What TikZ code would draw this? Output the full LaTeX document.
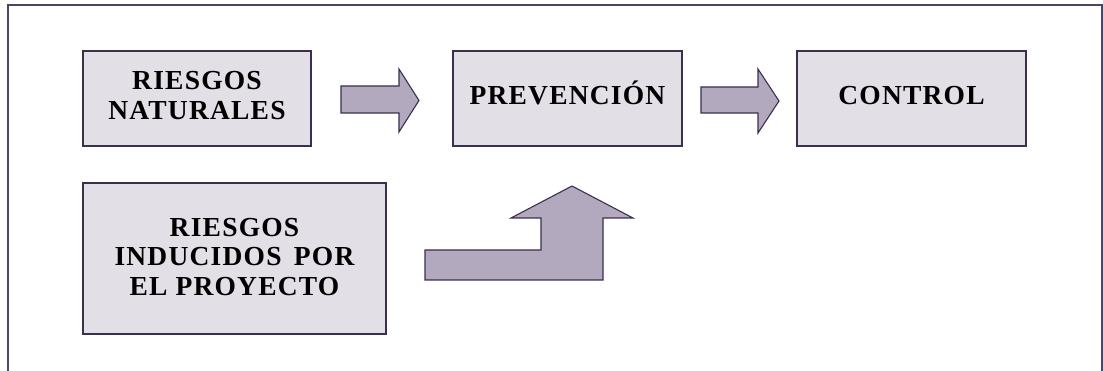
\documentclass[tikz,border=0pt]{standalone}
\usepackage{fontspec}
\setmainfont{Liberation Serif}[LetterSpace=4.4]
\usepackage{tikz}

\definecolor{boxfill}{RGB}{227,223,231}
\definecolor{arrowfill}{RGB}{178,169,190}
\definecolor{edgeline}{RGB}{59,47,79}
\definecolor{frameline}{RGB}{79,67,102}

\begin{document}
\begin{tikzpicture}[x=1pt,y=-1pt,
        riskbox/.style={shape=rectangle,draw=edgeline,fill=boxfill,line width=1.1pt,align=center,
                font=\fontsize{27.5}{29.4}\selectfont\bfseries,inner sep=0pt},
        oneline/.style={text height=18pt,text depth=6.4pt},
        blockarrow/.style={draw=edgeline,fill=arrowfill,line width=1.1pt,line join=miter}]
        \useasboundingbox (0,0) rectangle (1103,371);
        \draw[frameline,line width=1.4pt] (8,371) -- (8,5) -- (1102,5) -- (1102,371);

        \node[riskbox,minimum width=228pt,minimum height=95pt,text depth=6pt] (nat) at (197,98.5) {RIESGOS\\NATURALES};
        \node[riskbox,oneline,minimum width=229pt,minimum height=95pt] (prev) at (567.5,98.5) {PREVENCIÓN};
        \node[riskbox,oneline,minimum width=229pt,minimum height=95pt] (ctrl) at (911.5,98.5) {CONTROL};
        \node[riskbox,minimum width=303pt,minimum height=151pt,text depth=4pt] (ind) at (234.5,258.5)
                {RIESGOS\\INDUCIDOS\hspace{0.45em}POR\\EL PROYECTO};

        % block arrows
        \path[blockarrow] (341,86) -- (399,86) -- (399,69) -- (419,100.5) -- (399,132) -- (399,113) -- (341,113) -- cycle;
        \path[blockarrow] (701,87) -- (758,87) -- (758,69) -- (779,101) -- (758,133) -- (758,113) -- (701,113) -- cycle;
        \path[blockarrow] (425,250) -- (541,250) -- (541,218) -- (511,218) -- (572,186) -- (633,218)
                -- (603,218) -- (603,280) -- (425,280) -- cycle;
\end{tikzpicture}
\end{document}
